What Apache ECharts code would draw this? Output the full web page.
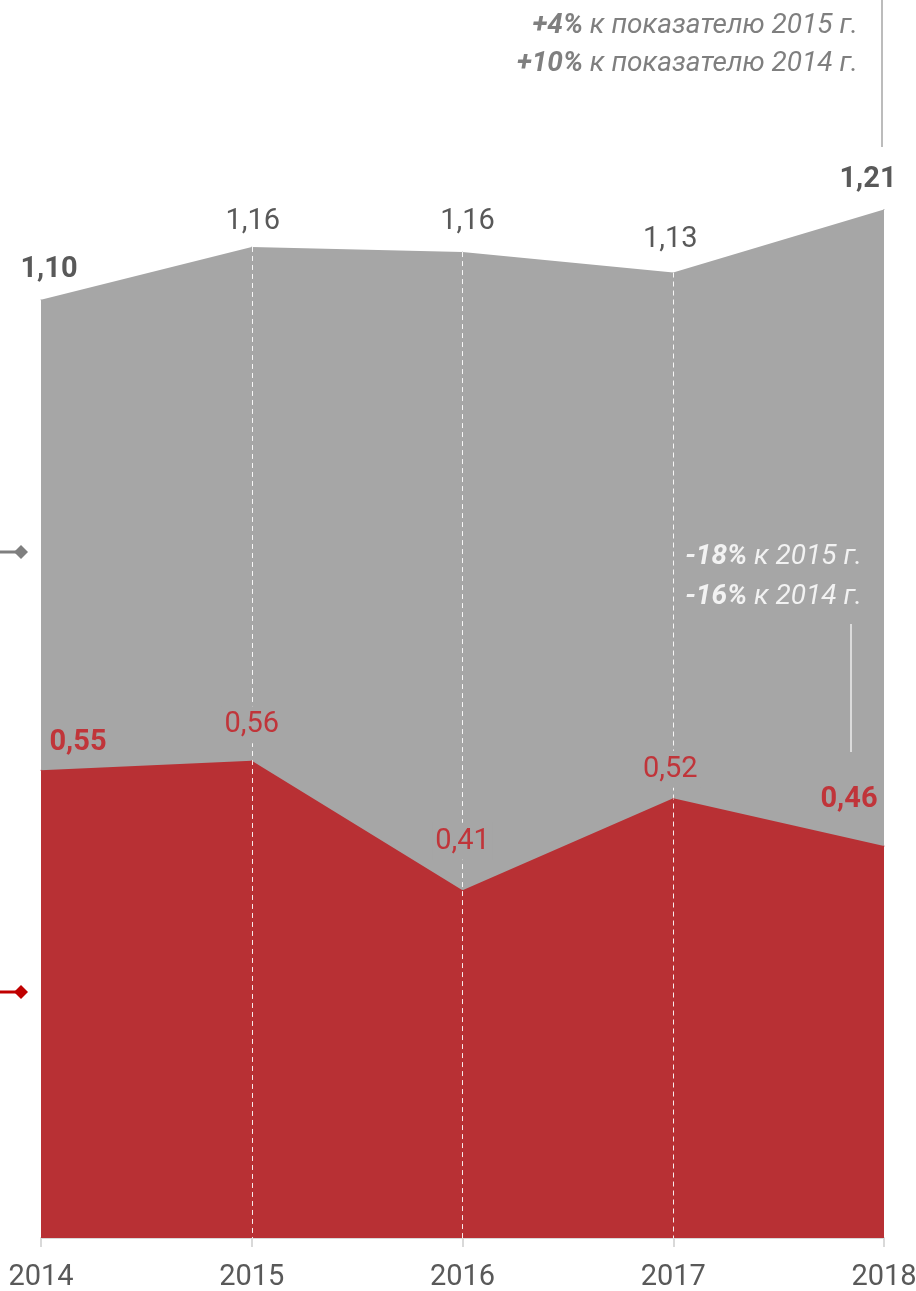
<!DOCTYPE html>
<html>
<head>
<meta charset="utf-8">
<script src="https://cdn.jsdelivr.net/npm/echarts@6/dist/echarts.min.js"></script>
<style>
html,body{margin:0;padding:0;background:#fff;}
#chart{width:916px;height:1291px;}
</style>
</head>
<body>
<div id="chart"></div>
<script>
// ---- data ----
const years = ['2014', '2015', '2016', '2017', '2018'];
const totalValues = [1.101, 1.163, 1.157, 1.133, 1.207];
const redValues = [0.549, 0.560, 0.408, 0.516, 0.460];
const dashedYears = ['2015', '2016', '2017'];
const boldTotalIdx = [0, 4];
const boldRedIdx = [0, 4];
const topNote = [['+4%', ' к показателю 2015 г.'], ['+10%', ' к показателю 2014 г.']];
const midNote = [['-18%', ' к 2015 г.'], ['-16%', ' к 2014 г.']];

// ---- style ----
const FONT = 'Roboto, "Liberation Sans", sans-serif';
const GRAY = '#a6a6a6';
const RED = '#b83034';
const DARK = '#595959';
const REDTXT = '#c0353a';
const FS = 29;

const totalOffsets = [[8, -15], [1, -10], [5, -15], [-3, -18], [-16, -15]];
const redOffsets = [[37, -12], [0, -17], [0, -30], [-3, -10], [-35, -31]];

function fmt(v) { return v.toFixed(2).replace('.', ','); }

const chart = echarts.init(document.getElementById('chart'), null, {renderer: 'canvas'});

const totalData = totalValues.map((v, i) => ({
  value: v,
  label: {
    offset: totalOffsets[i],
    fontWeight: boldTotalIdx.includes(i) ? 'bold' : 'normal'
  }
}));
const redLabelData = redValues.map((v, i) => {
  const mid = dashedYears.includes(years[i]);
  return {
    value: v,
    label: {
      offset: redOffsets[i],
      fontWeight: boldRedIdx.includes(i) ? 'bold' : 'normal',
      backgroundColor: mid ? GRAY : 'transparent',
      padding: mid ? [4, 3] : 0
    }
  };
});

const markLineData = dashedYears.map(y => {
  const i = years.indexOf(y);
  return [{coord: [y, totalValues[i]]}, {coord: [y, 0]}];
});

function noteLine(line, color, right, top) {
  return {
    type: 'text',
    right: right,
    top: top,
    z: 20,
    style: {
      text: '{b|' + line[0] + '}{n|' + line[1] + '}',
      rich: {
        b: {fontFamily: FONT, fontSize: 28, fontStyle: 'italic', fontWeight: 'bold', fill: color},
        n: {fontFamily: FONT, fontSize: 28, fontStyle: 'italic', fill: color}
      }
    }
  };
}

const option = {
  backgroundColor: '#fff',
  animation: false,
  grid: {left: 41, right: 32, bottom: 53, top: 45, outerBoundsMode: 'none', containLabel: false},
  xAxis: {
    type: 'category',
    data: years,
    boundaryGap: false,
    axisLine: {lineStyle: {color: '#d9d9d9', width: 2}},
    axisTick: {show: true, length: 9, lineStyle: {color: '#d9d9d9', width: 2}},
    axisLabel: {fontFamily: FONT, fontSize: FS, color: DARK, margin: 25},
    splitLine: {show: false}
  },
  yAxis: {
    type: 'value',
    min: 0,
    max: 1.4,
    show: false
  },
  series: [
    {
      name: 'total',
      type: 'line',
      z: 2,
      data: totalData,
      symbol: 'circle',
      symbolSize: 1,
      itemStyle: {color: GRAY},
      lineStyle: {color: GRAY, width: 0},
      areaStyle: {color: GRAY, opacity: 1},
      label: {
        show: true,
        position: 'top',
        distance: 0,
        fontFamily: FONT,
        fontSize: FS,
        color: DARK,
        formatter: p => fmt(p.value)
      },
      markLine: {
        silent: true,
        symbol: ['none', 'none'],
        z: 4,
        label: {show: false},
        lineStyle: {color: '#ffffff', type: [5, 4], width: 1, opacity: 0.9},
        data: markLineData
      }
    },
    {
      name: 'red',
      type: 'line',
      z: 3,
      data: redValues,
      symbol: 'none',
      lineStyle: {color: RED, width: 0},
      areaStyle: {color: RED, opacity: 1}
    },
    {
      name: 'redLabels',
      type: 'line',
      z: 10,
      data: redLabelData,
      symbol: 'circle',
      symbolSize: 1,
      itemStyle: {color: RED},
      lineStyle: {width: 0, opacity: 0},
      label: {
        show: true,
        position: 'top',
        distance: 0,
        fontFamily: FONT,
        fontSize: FS,
        color: REDTXT,
        formatter: p => fmt(p.value)
      }
    }
  ],
  graphic: [
    noteLine(topNote[0], '#7f7f7f', 58, 12),
    noteLine(topNote[1], '#7f7f7f', 58, 50),
    {type: 'line', z: 20, shape: {x1: 882, y1: 0, x2: 882, y2: 147}, style: {stroke: GRAY, lineWidth: 1.5}},
    noteLine(midNote[0], '#f2f2f2', 54, 543),
    noteLine(midNote[1], '#f2f2f2', 54, 583),
    {type: 'line', z: 20, shape: {x1: 851, y1: 624, x2: 851, y2: 752}, style: {stroke: '#ececec', lineWidth: 1.5}},
    {type: 'line', z: 20, shape: {x1: 0, y1: 552, x2: 16, y2: 552}, style: {stroke: '#7f7f7f', lineWidth: 3}},
    {type: 'polygon', z: 20, shape: {points: [[21, 545], [28, 552], [21, 559], [14, 552]]}, style: {fill: '#7f7f7f'}},
    {type: 'line', z: 20, shape: {x1: 0, y1: 992, x2: 16, y2: 992}, style: {stroke: '#c00000', lineWidth: 3}},
    {type: 'polygon', z: 20, shape: {points: [[21, 985], [28, 992], [21, 999], [14, 992]]}, style: {fill: '#c00000'}}
  ]
};

chart.setOption(option);
</script>
</body>
</html>
